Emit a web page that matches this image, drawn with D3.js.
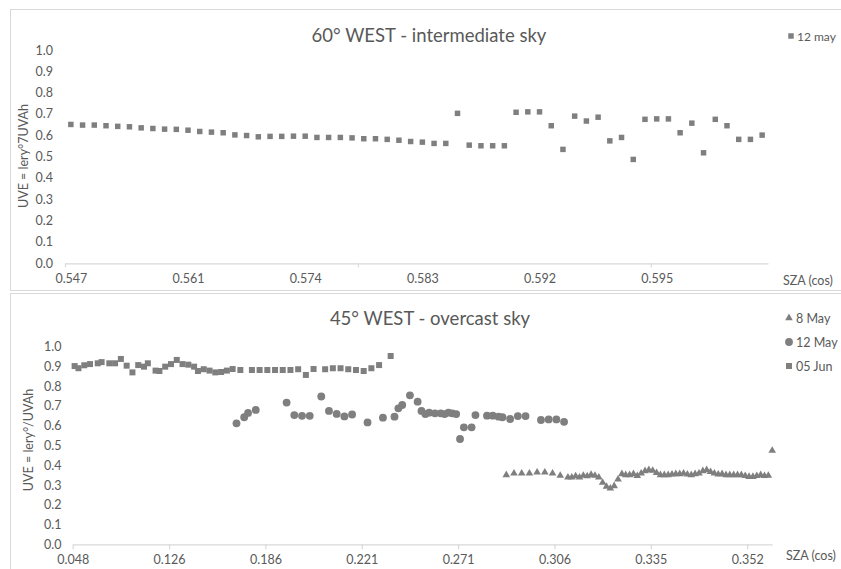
<!DOCTYPE html>
<html>
<head>
<meta charset="utf-8">
<script src="https://cdn.jsdelivr.net/npm/d3@7"></script>
<style>
  html, body { margin: 0; padding: 0; background: #ffffff; }
  svg { display: block; font-family: "Lato", "Open Sans", sans-serif; }
  text { fill: #595959; }
</style>
</head>
<body>
<svg id="chart" width="841" height="569"></svg>
<script>
// ---- 60° WEST, intermediate sky (12 may) ----
const topXLabels = ["0.547", "0.561", "0.574", "0.583", "0.592", "0.595"];
const may12TopUVE = [
  0.651, 0.648, 0.648, 0.645, 0.642, 0.640, 0.635, 0.632, 0.629, 0.628,
  0.624, 0.618, 0.615, 0.612, 0.602, 0.599, 0.593, 0.595, 0.595, 0.596,
  0.596, 0.590, 0.590, 0.590, 0.588, 0.584, 0.584, 0.581, 0.577, 0.571,
  0.568, 0.562, 0.562, 0.703, 0.554, 0.551, 0.551, 0.551, 0.708, 0.710,
  0.710, 0.645, 0.534, 0.690, 0.667, 0.685, 0.574, 0.590, 0.487, 0.675,
  0.677, 0.677, 0.612, 0.657, 0.518, 0.675, 0.645, 0.581, 0.581, 0.601
];

// ---- 45° WEST, overcast sky (category index along the SZA axis, UVE) ----
const bottomXLabels = ["0.048", "0.126", "0.186", "0.221", "0.271", "0.306", "0.335", "0.352"];
const jun05Cat = [1, 3, 6, 9, 13, 15, 19, 22, 25, 28, 31, 34, 37, 39, 43, 45, 48, 51, 54, 57,
  60, 63, 65, 68, 71, 74, 77, 80, 83, 87, 93, 97, 101, 105, 109, 113, 117, 121, 125, 131,
  135, 139, 143, 147, 151, 155, 159, 165];
const jun05UVE = [0.902, 0.891, 0.906, 0.912, 0.916, 0.922, 0.916, 0.916, 0.938, 0.904,
  0.870, 0.907, 0.899, 0.916, 0.879, 0.877, 0.899, 0.912, 0.933, 0.912,
  0.909, 0.899, 0.877, 0.886, 0.879, 0.870, 0.872, 0.879, 0.887, 0.882,
  0.882, 0.882, 0.882, 0.882, 0.882, 0.882, 0.886, 0.857, 0.887, 0.886,
  0.891, 0.891, 0.886, 0.882, 0.877, 0.891, 0.907, 0.953];
const may12Cat = [85, 89, 91, 95, 111, 115, 119, 123, 129, 133, 137, 141, 145, 153, 161, 167,
  169, 171, 175, 179, 181, 183, 185, 188, 191, 193, 195, 197, 199, 201, 203, 207, 209, 215,
  218, 221, 223, 227, 231, 235, 243, 247, 251, 255];
const may12UVE = [0.612, 0.643, 0.665, 0.680, 0.717, 0.654, 0.650, 0.650, 0.748, 0.675,
  0.660, 0.647, 0.657, 0.617, 0.641, 0.646, 0.688, 0.705, 0.754, 0.722,
  0.675, 0.659, 0.666, 0.663, 0.663, 0.659, 0.666, 0.663, 0.659, 0.533,
  0.592, 0.592, 0.654, 0.651, 0.651, 0.646, 0.643, 0.634, 0.649, 0.649,
  0.629, 0.632, 0.632, 0.620];
const may08Cat = [225, 229, 233, 237, 241, 245, 249, 253, 257,
  259, 261, 263, 265, 267, 269, 271, 273, 275, 277, 279, 281, 283, 285, 287, 289, 291, 293,
  295, 297, 299, 301, 303, 305, 307, 309, 311, 313, 315, 317, 319, 321, 323, 325, 327, 329,
  331, 333, 335, 337, 339, 341, 343, 345, 347, 349, 351, 353, 355, 357, 359, 361, 363];
const may08UVE = [0.351, 0.359, 0.359, 0.359, 0.364, 0.364, 0.359, 0.348, 0.339,
  0.339, 0.345, 0.339, 0.348, 0.345, 0.352, 0.348, 0.339, 0.312, 0.292, 0.283, 0.295, 0.329,
  0.356, 0.351, 0.351, 0.356, 0.346, 0.359, 0.371, 0.376, 0.373, 0.362, 0.351, 0.351, 0.351,
  0.354, 0.356, 0.356, 0.359, 0.354, 0.351, 0.356, 0.359, 0.371, 0.376, 0.367, 0.359, 0.354,
  0.356, 0.351, 0.351, 0.351, 0.351, 0.351, 0.346, 0.342, 0.342, 0.346, 0.351, 0.346, 0.348,
  0.474];

const yTicks = d3.range(0, 11).map(i => i / 10);
const markColor = "#7f7f7f";
const lineColor = "#d9d9d9";

const svg = d3.select("#chart");

// chart frames
svg.append("rect").attr("x", 10.5).attr("y", 9.5).attr("width", 840).attr("height", 281)
  .attr("fill", "none").attr("stroke", lineColor);
svg.append("rect").attr("x", 10.5).attr("y", 293.5).attr("width", 840).attr("height", 290)
  .attr("fill", "none").attr("stroke", lineColor);

function yAxis(g, y, labelX) {
  const ax = g.append("g").attr("transform", `translate(${labelX},0)`)
    .call(d3.axisLeft(y).tickValues(yTicks).tickFormat(d3.format(".1f")).tickSize(0).tickPadding(0));
  ax.select(".domain").remove();
  ax.selectAll("text").attr("fill", "#595959").style("font-size", "12.5px")
    .style("font-family", "Lato, 'Open Sans', sans-serif");
}

function title(text, x, y) {
  svg.append("text").attr("x", x).attr("y", y).attr("text-anchor", "middle")
    .style("font-size", "18.5px").text(text);
}

function yTitle(text, x, y) {
  svg.append("text").attr("transform", `translate(${x},${y}) rotate(-90)`)
    .attr("text-anchor", "middle").style("font-size", "12.5px").text(text);
}

function xAxisLine(g, x, y0, tickCats, tickLen) {
  const ax = g.append("g").attr("transform", `translate(0,${y0})`)
    .call(d3.axisBottom(x).tickValues(tickCats).tickFormat("").tickSizeInner(tickLen).tickSizeOuter(0));
  ax.select(".domain").attr("stroke", lineColor).attr("stroke-width", 1.2);
  ax.selectAll(".tick line").attr("stroke", lineColor).attr("stroke-width", 1.2);
}

function xLabels(g, x, cats, labels, yBase) {
  const ax = g.append("g").attr("transform", `translate(0,${yBase})`)
    .call(d3.axisBottom(x).tickValues(cats).tickFormat((d, i) => labels[i]).tickSize(0).tickPadding(0));
  ax.select(".domain").remove();
  ax.selectAll("text").attr("fill", "#595959").style("font-size", "12.5px")
    .style("font-family", "Lato, 'Open Sans', sans-serif");
}

const sym = (type, size) => d3.symbol().type(type).size(size)();

// ---------------- top panel ----------------
{
  const x = d3.scaleLinear().domain([-0.5, 59.5]).range([65, 768]);
  const y = d3.scaleLinear().domain([0, 1]).range([263.3, 50]);
  const g = svg.append("g");

  title("60° WEST - intermediate sky", 429, 41.5);
  yAxis(g, y, 53);
  yTitle("UVE = lery°7UVAh", 28, 156);
  xAxisLine(g, x, 263.3, [-0.5, 24.5, 49.5], 4);
  xLabels(g, x, d3.range(0, 60, 10), topXLabels, 274);
  svg.append("text").attr("x", 783).attr("y", 285).style("font-size", "12.5px").text("SZA (cos)");

  g.append("g").selectAll("path").data(may12TopUVE).join("path")
    .attr("d", sym(d3.symbolSquare, 30))
    .attr("transform", (d, i) => `translate(${x(i)},${y(d)})`)
    .attr("fill", markColor);

  // legend
  svg.append("path").attr("d", sym(d3.symbolSquare, 30))
    .attr("transform", "translate(791,36)").attr("fill", markColor);
  svg.append("text").attr("x", 797).attr("y", 40.5).style("font-size", "12px").text("12 may");
}

// ---------------- bottom panel ----------------
{
  const x = d3.scaleLinear().domain([0, 363]).range([72.7, 772.2]);
  const y = d3.scaleLinear().domain([0, 1]).range([544.3, 346.7]);
  const g = svg.append("g");

  title("45° WEST - overcast sky", 430, 325);
  yAxis(g, y, 61.5);
  yTitle("UVE = lery°/UVAh", 33, 440);
  const labelCats = d3.range(0, 351, 50);
  xAxisLine(g, x, 544.3, labelCats, 5);
  xLabels(g, x, labelCats, bottomXLabels, 555);
  svg.append("text").attr("x", 786).attr("y", 560).style("font-size", "12.5px").text("SZA (cos)");

  g.append("g").selectAll("path").data(jun05UVE).join("path")
    .attr("d", sym(d3.symbolSquare, 36))
    .attr("transform", (d, i) => `translate(${x(jun05Cat[i])},${y(d)})`)
    .attr("fill", markColor);
  g.append("g").selectAll("path").data(may12UVE).join("path")
    .attr("d", sym(d3.symbolCircle, 48))
    .attr("transform", (d, i) => `translate(${x(may12Cat[i])},${y(d)})`)
    .attr("fill", markColor);
  g.append("g").selectAll("path").data(may08UVE).join("path")
    .attr("d", sym(d3.symbolTriangle, 25))
    .attr("transform", (d, i) => `translate(${x(may08Cat[i])},${y(d)})`)
    .attr("fill", markColor);

  // legend
  const legend = [
    { label: "8 May", type: d3.symbolTriangle, size: 25, y: 318 },
    { label: "12 May", type: d3.symbolCircle, size: 48, y: 342 },
    { label: "05 Jun", type: d3.symbolSquare, size: 36, y: 366 }
  ];
  legend.forEach(l => {
    svg.append("path").attr("d", sym(l.type, l.size))
      .attr("transform", `translate(789,${l.y})`).attr("fill", markColor);
    svg.append("text").attr("x", 796).attr("y", l.y + 4.5).style("font-size", "12.5px").text(l.label);
  });
}
</script>
</body>
</html>
